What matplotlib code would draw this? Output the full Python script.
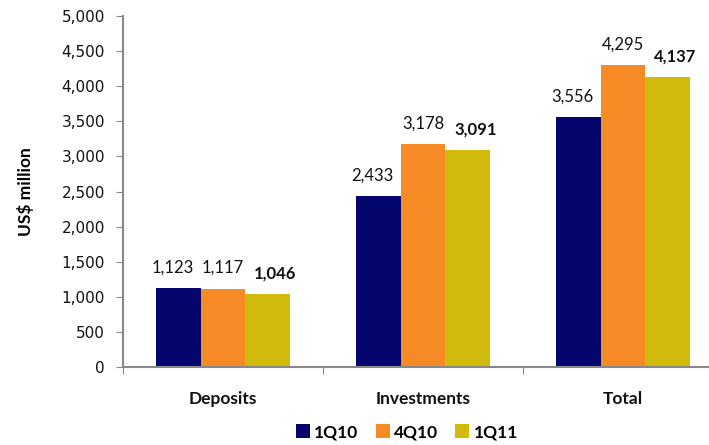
import matplotlib.pyplot as plt
import numpy as np

plt.rcParams['font.family'] = 'DejaVu Sans'

# data
categories = ['Deposits', 'Investments', 'Total']
series_names = ['1Q10', '4Q10', '1Q11']
q1_10 = [1123, 2433, 3556]
q4_10 = [1117, 3178, 4295]
q1_11 = [1046, 3091, 4137]
colors = ['#05056E', '#F68A25', '#D0BA0C']

fig = plt.figure(figsize=(7.09, 4.45), dpi=100)
# axis runs a bit past the right edge, like the original
ax = fig.add_axes([123/709, 78/445, 600/709, 351/445])

x = np.arange(len(categories))
w = 0.222
label_shift = [-0.03, 0.0, 0.04]
all_series = [q1_10, q4_10, q1_11]
for k, vals in enumerate(all_series):
    pos = x + (k - 1) * w
    ax.bar(pos, vals, width=w, color=colors[k], label=series_names[k], zorder=2)
    for p, v in zip(pos, vals):
        bold = (k == 2)
        ax.annotate(f'{v:,}', (p + label_shift[k], v), xytext=(0, 9), textcoords='offset points',
                    ha='center', va='bottom', fontsize=12, family='Lato',
                    fontweight='bold' if bold else 'normal', color='#111111')

ax.set_xlim(-0.5, 2.5)
ax.set_ylim(0, 5000)
ax.set_yticks(np.arange(0, 5001, 500))
ax.set_yticklabels([f'{t:,}' for t in range(0, 5001, 500)], fontsize=11, color='#111111')
ax.set_xticks([-0.5, 0.5, 1.5, 2.5])
ax.set_xticklabels([])
ax.set_xticks(x, minor=True)
ax.set_xticklabels(categories, minor=True, fontsize=12.5, fontweight='bold',
                   family='Lato', color='#111111')
ax.tick_params(axis='x', which='minor', length=0, pad=17)
ax.tick_params(axis='x', which='major', length=5, color='#888888', direction='out')
ax.tick_params(axis='y', length=5, color='#888888', direction='out', pad=8)

for s in ['top', 'right']:
    ax.spines[s].set_visible(False)
for s in ['left', 'bottom']:
    ax.spines[s].set_color('#888888')
    ax.spines[s].set_linewidth(1.5)
ax.spines['bottom'].set_zorder(3)

ax.set_ylabel('US$ million', fontsize=12.5, fontweight='bold', family='Lato', labelpad=20)

leg = fig.legend(loc='center', bbox_to_anchor=(407/709, 1 - 432/445), ncol=3, frameon=False,
                 handlelength=0.8, handleheight=0.8, handletextpad=0.25,
                 columnspacing=1.0, prop={'weight': 'bold', 'size': 12.5, 'family': 'Lato'})

fig.savefig('out.png', dpi=100)
